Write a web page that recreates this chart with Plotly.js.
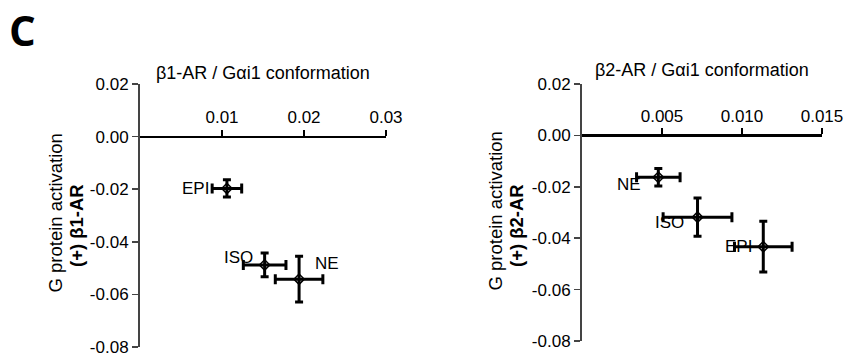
<!DOCTYPE html>
<html>
<head>
<meta charset="utf-8">
<script src="https://cdn.plot.ly/plotly-3.0.1.min.js"></script>
<style>html,body{margin:0;padding:0;background:#fff;}#chart{width:847px;height:359px;}</style>
</head>
<body>
<div id="chart"></div>
<script>
// ---- data ----
const ligands1 = ['EPI', 'ISO', 'NE'];
const conf1 = [0.0106, 0.0152, 0.0194];
const conf1Err = [0.0018, 0.0026, 0.0029];
const act1 = [-0.0197, -0.0488, -0.0542];
const act1Err = [0.0033, 0.0045, 0.0087];

const ligands2 = ['NE', 'ISO', 'EPI'];
const conf2 = [0.00477, 0.00722, 0.01133];
const conf2Err = [0.00136, 0.00215, 0.0018];
const act2 = [-0.0163, -0.0318, -0.0433];
const act2Err = [0.0034, 0.0074, 0.0099];

const xTicks1 = [0.01, 0.02, 0.03];
const xTickText1 = ['0.01', '0.02', '0.03'];
const xTicks2 = [0.005, 0.010, 0.015];
const xTickText2 = ['0.005', '0.010', '0.015'];
const yTicks = [0.02, 0.00, -0.02, -0.04, -0.06, -0.08];
const yTickText = ['0.02', '0.00', '-0.02', '-0.04', '-0.06', '-0.08'];

// ---- layout geometry ----
const W = 847, H = 359;
const font = 'Liberation Sans, Arial, sans-serif';
const xr1 = [0, 0.03], xr2 = [0, 0.015], yr = [-0.08, 0.02];
const xd1 = [140 / W, 386 / W], yd1 = [1 - 347 / H, 1 - 84 / H];
const xd2 = [582 / W, 822 / W], yd2 = [1 - 341 / H, 1 - 84 / H];
function zeroPos(yd) { return yd[0] + (0 - yr[0]) / (yr[1] - yr[0]) * (yd[1] - yd[0]); }

// label offsets (px) per panel, in ligand order
const labelOff1 = [{a: 'right', dx: -16, dy: 0}, {a: 'right', dx: -10, dy: 7}, {a: 'left', dx: 14, dy: 16}];
const labelOff2 = [{a: 'right', dx: -15, dy: -7}, {a: 'right', dx: -12, dy: -5}, {a: 'right', dx: -9, dy: 0}];

function trace(x, xe, y, ye, xa, ya) {
  return {
    type: 'scatter', mode: 'markers', x: x, y: y, xaxis: xa, yaxis: ya,
    cliponaxis: false, showlegend: false, hoverinfo: 'skip',
    marker: {symbol: 'diamond-open', size: 8, color: '#000', line: {width: 1.5, color: '#000'}},
    error_x: {type: 'data', array: xe, visible: true, color: '#000', thickness: 3, width: 5},
    error_y: {type: 'data', array: ye, visible: true, color: '#000', thickness: 3, width: 4}
  };
}

const data = [
  trace(conf1, conf1Err, act1, act1Err, 'x', 'y'),
  trace(conf2, conf2Err, act2, act2Err, 'x2', 'y2')
];

function xaxis(range, dom, yd, tv, tt) {
  return {
    range: range, domain: dom, anchor: 'free', position: zeroPos(yd), side: 'top',
    showline: true, linewidth: 2.5, linecolor: '#000', ticks: 'outside', ticklen: 6,
    tickwidth: 1.5, tickcolor: '#000', tickvals: tv, ticktext: tt,
    showgrid: false, zeroline: false, fixedrange: true,
    tickfont: {family: font, size: 17, color: '#000'}
  };
}
function yaxis(dom, anchor) {
  return {
    range: yr, domain: dom, anchor: anchor,
    showline: true, linewidth: 2, linecolor: '#444', ticks: 'outside', ticklen: 6,
    tickwidth: 1.5, tickcolor: '#444', tickvals: yTicks, ticktext: yTickText,
    showgrid: false, zeroline: false, fixedrange: true,
    tickfont: {family: font, size: 17, color: '#000'}
  };
}

const annotations = [];
function addLabels(ligs, xs, ys, offs, xref, yref) {
  ligs.forEach((l, i) => annotations.push({
    x: xs[i], y: ys[i], xref: xref, yref: yref, text: l, showarrow: false,
    xanchor: offs[i].a, yanchor: 'middle', xshift: offs[i].dx, yshift: offs[i].dy,
    font: {family: font, size: 17, color: '#000'}
  }));
}
addLabels(ligands1, conf1, act1, labelOff1, 'x', 'y');
addLabels(ligands2, conf2, act2, labelOff2, 'x2', 'y2');

// axis titles
annotations.push({xref: 'paper', yref: 'paper', x: (xd1[0] + xd1[1]) / 2, y: 1 - 73 / H,
  text: 'β1-AR / Gαi1 conformation', showarrow: false, xanchor: 'center', yanchor: 'middle',
  font: {family: font, size: 18, color: '#000'}});
annotations.push({xref: 'paper', yref: 'paper', x: (xd2[0] + xd2[1]) / 2, y: 1 - 70 / H,
  text: 'β2-AR / Gαi1 conformation', showarrow: false, xanchor: 'center', yanchor: 'middle',
  font: {family: font, size: 18, color: '#000'}});
function yTitle(xc, yc, txt, bold) {
  annotations.push({xref: 'paper', yref: 'paper', x: xc / W, y: 1 - yc / H, text: bold ? '<b>' + txt + '</b>' : txt,
    showarrow: false, textangle: -90, xanchor: 'center', yanchor: 'middle',
    font: {family: font, size: 18.5, color: '#000'}});
}
yTitle(55, 212.5, 'G protein activation', false);
yTitle(76, 226, '(+) β1-AR', true);
yTitle(495, 211.5, 'G protein activation', false);
yTitle(516, 226, '(+) β2-AR', true);

// panel letter
annotations.push({xref: 'paper', yref: 'paper', x: 7 / W, y: 1 + 1 / H, text: '<b>C</b>',
  showarrow: false, xanchor: 'left', yanchor: 'top',
  font: {family: 'Open Sans, Noto Sans, sans-serif', size: 42, color: '#000'}});

const layout = {
  width: W, height: H, margin: {l: 0, r: 0, t: 0, b: 0, pad: 0},
  paper_bgcolor: '#fff', plot_bgcolor: 'rgba(0,0,0,0)', showlegend: false,
  xaxis: xaxis(xr1, xd1, yd1, xTicks1, xTickText1),
  yaxis: yaxis(yd1, 'x'),
  xaxis2: xaxis(xr2, xd2, yd2, xTicks2, xTickText2),
  yaxis2: yaxis(yd2, 'x2'),
  annotations: annotations
};

Plotly.newPlot('chart', data, layout, {displayModeBar: false, staticPlot: true});
</script>
</body>
</html>
